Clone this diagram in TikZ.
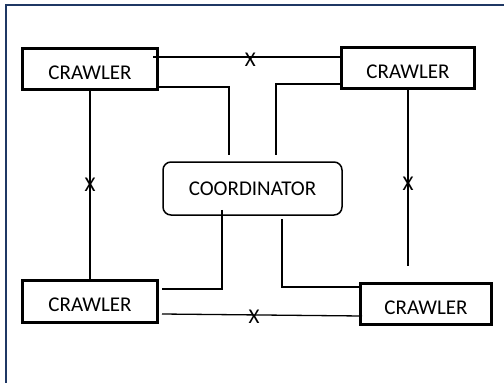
\documentclass[tikz,border=0pt]{standalone}
\usepackage{fontspec}
\setmainfont{Carlito}
\usetikzlibrary{positioning,calc}
\definecolor{framenavy}{RGB}{31,56,100}
\tikzset{
  % Crawler box: heavy border, caps label
  cbox/.style={draw, rectangle, line width=3pt, minimum width=135pt, minimum height=41pt,
               inner sep=0pt, text height=20pt, text depth=0pt, font=\fontsize{21}{25}\selectfont},
  % Coordinator: rounded corners, thinner border
  coordbox/.style={draw, rectangle, rounded corners=8pt, line width=1.5pt,
                   minimum width=179pt, minimum height=53pt, font=\fontsize{21}{25}\selectfont},
  % Plain links and the cut mark on them
  link/.style={line width=1.3pt},
  xmark/.style={font=\fontsize{21}{24}\selectfont, inner sep=0pt},
  % Page frame (cropped on right and bottom)
  frameline/.style={draw=framenavy, line width=2pt}
}
\begin{document}
\begin{tikzpicture}[x=1pt,y=-1pt]
\useasboundingbox (0,0) rectangle (504,383);

% ============== FRAME ==============
\draw[frameline] (6,383) -- (6,5) -- (504,5);

% ============== NODES ==============
\node[cbox] (tl) at (90,69) {CRAWLER};
\node[cbox, minimum width=133pt] (tr) at (408,68) {CRAWLER};
\node[coordbox] (coord) at (252.5,188.5) {COORDINATOR};
\node[cbox, minimum height=42pt] (bl) at (90,301.5) {CRAWLER};
\node[cbox, minimum width=131pt] (br) at (426,304) {CRAWLER};

% ============== CRAWLER-TO-CRAWLER LINKS (cut) ==============
\draw[link] ([xshift=-6pt,yshift=-10pt]tl.north east) coordinate (topl)
  -- node[xmark, pos=0.52, yshift=-3pt] {X} (topl -| tr.west);
\draw[link] (tl.south) -- node[xmark] {X} (bl.north);
\coordinate (rgap) at ([yshift=16pt]br.north);
\draw[link] (tr.south) -- node[xmark, pos=0.53] {X} (tr.south |- rgap);
\draw[link] ([xshift=3pt,yshift=-12.5pt]bl.east)
  -- node[xmark, pos=0.46, yshift=-2pt] {X} ([xshift=3pt,yshift=-12pt]br.west);

% ============== COORDINATOR LINKS ==============
\draw[link] ([yshift=4pt]tl.south east) -| ([xshift=-23.5pt,yshift=6pt]coord.north);
\draw[link] ([yshift=6pt]tr.south west) -| ([xshift=23.5pt,yshift=6pt]coord.north);
\draw[link] ([xshift=-30.5pt,yshift=6pt]coord.south) |- ([xshift=3pt,yshift=12.5pt]bl.east);
\draw[link] ([xshift=29.5pt,yshift=-3pt]coord.south) |- ([yshift=17pt]br.west);

\end{tikzpicture}
\end{document}
